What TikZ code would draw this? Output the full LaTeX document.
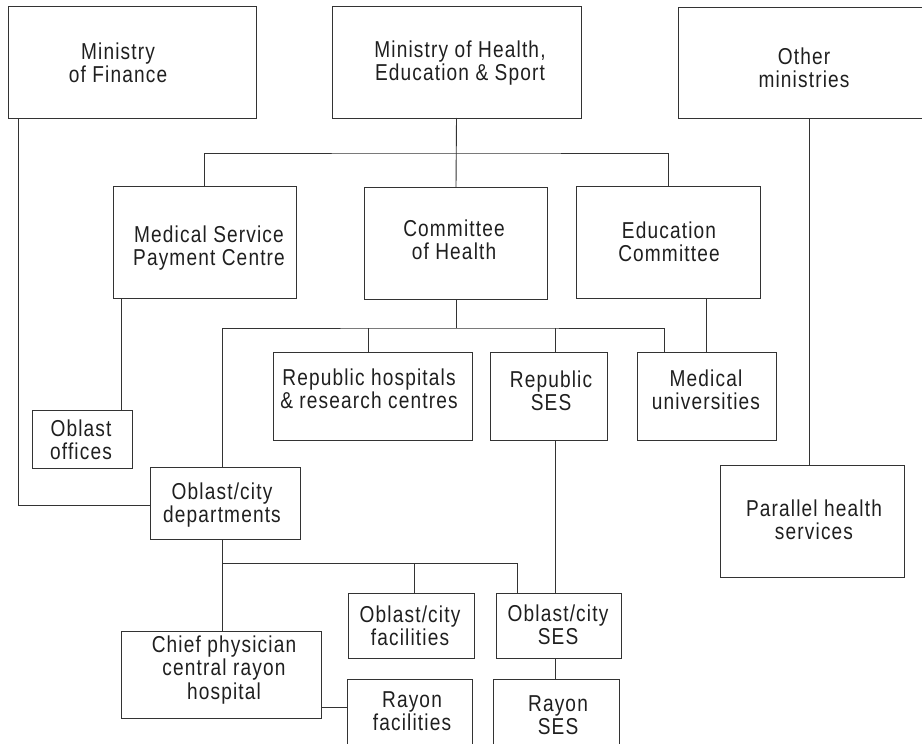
\documentclass[tikz,border=0pt]{standalone}
\usepackage{fontspec}
\setmainfont{Liberation Sans}[FakeStretch=0.83,LetterSpace=5]
\begin{document}
\begin{tikzpicture}[x=1pt,y=-1pt,
  box/.style={draw=black!80,line width=0.9pt,minimum width=#1,inner sep=0pt,outer sep=0pt},
  lbl/.style={align=center,inner sep=0pt,text=black!88,font=\fontsize{23}{23.5}\selectfont},
  conn/.style={draw=black!80,line width=0.9pt}]
\useasboundingbox (0,0) rectangle (922,744);
\clip (0,0) rectangle (922,744);
% boxes
\node[box=248pt,minimum height=112pt] (mof) at (132,62) {};
\node[box=249pt,minimum height=112pt] (moh) at (456.5,62) {};
\node[box=262pt,minimum height=111pt] (oth) at (809,62.5) {};
\node[box=183pt,minimum height=112pt] (mspc) at (204.5,242) {};
\node[box=183pt,minimum height=112pt] (coh) at (456,243) {};
\node[box=184pt,minimum height=112pt] (edu) at (668,242) {};
\node[box=199pt,minimum height=88pt] (rh) at (372.5,396) {};
\node[box=117pt,minimum height=88pt] (rses) at (548.5,396) {};
\node[box=139pt,minimum height=88pt] (mu) at (706.5,396) {};
\node[box=184pt,minimum height=112pt] (phs) at (812,521) {};
\node[box=100pt,minimum height=58pt] (oo) at (82,439) {};
\node[box=150pt,minimum height=72pt] (ocd) at (225,503) {};
\node[box=126pt,minimum height=65pt] (ocf) at (411,625.5) {};
\node[box=125pt,minimum height=65pt] (ocs) at (558.5,625.5) {};
\node[box=200pt,minimum height=87pt] (cp) at (221,674.5) {};
\node[box=125pt,minimum height=81pt] (rf) at (409.5,719.5) {};
\node[box=126pt,minimum height=81pt] (rs) at (556,719.5) {};
% labels
\node[lbl] (tmof) at (118,63) {Ministry\\of Finance};
\node[lbl] (tmoh) at (460,63) {Ministry of Health,\\Education \& Sport};
\node[lbl] (toth) at (804,68) {Other\\ministries};
\node[lbl] (tmspc) at (209,248) {Medical Service\\Payment Centre};
\node[lbl] (tcoh) at (454,240) {Committee\\of Health};
\node[lbl] (tedu) at (669,242) {Education\\Committee};
\node[lbl] (trh) at (369,389) {Republic hospitals\\\& research centres};
\node[lbl] (trses) at (551,391) {Republic\\SES};
\node[lbl] (tmu) at (706,390) {Medical\\universities};
\node[lbl] (tphs) at (814,520) {Parallel health\\services};
\node[lbl] (too) at (81,440) {Oblast\\offices};
\node[lbl] (tocd) at (222,505) {Oblast/city\\departments};
\node[lbl] (tocf) at (410,626) {Oblast/city\\facilities};
\node[lbl] (tocs) at (558,625) {Oblast/city\\SES};
\node[lbl] (tcp) at (224,670) {Chief physician\\central rayon\\hospital};
\node[lbl] (trf) at (412,711) {Rayon\\facilities};
\node[lbl] (trs) at (558,715) {Rayon\\SES};
% helper coordinates
\coordinate (b1) at (456,153);
\coordinate (b2) at (456,328);
\coordinate (b3) at (222,563);
\coordinate (xL) at (222,0);
\coordinate (xRH) at (368,0);
\coordinate (xSES) at (555,0);
\coordinate (xMU) at (664,0);
\coordinate (xMS) at (121,0);
\coordinate (xMF) at (18,0);
\coordinate (xOF) at (414,0);
\coordinate (xOS) at (517,0);
\coordinate (yCP) at (0,707);
\coordinate (yMF) at (0,505);
% connectors
\draw[conn] (moh.south) -- (coh.north);
\draw[conn] (mspc.north) |- (b1) -| (edu.north);
\draw[conn] (coh.south) -- (b2);
\draw[conn] (ocd.north -| xL) |- (b2) -| (mu.north -| xMU);
\draw[conn] (b2 -| xRH) -- (rh.north -| xRH);
\draw[conn] (b2 -| xSES) -- (rses.north -| xSES);
\draw[conn] (edu.south -| mu.north) -- (mu.north);
\draw[conn] (oth.south) -- (oth.south |- phs.north);
\draw[conn] (mspc.south -| xMS) -- (oo.north -| xMS);
\draw[conn] (mof.south -| xMF) |- (ocd.west |- yMF);
\draw[conn] (ocd.south -| xL) -- (cp.north -| xL);
\draw[conn] (b3) -| (ocf.north -| xOF);
\draw[conn] (b3) -| (ocs.north -| xOS);
\draw[conn] (rses.south -| xSES) -- (ocs.north -| xSES);
\draw[conn] (ocs.south -| xSES) -- (rs.north -| xSES);
\draw[conn] (cp.east |- yCP) -- (rf.west |- yCP);
\end{tikzpicture}
\end{document}
